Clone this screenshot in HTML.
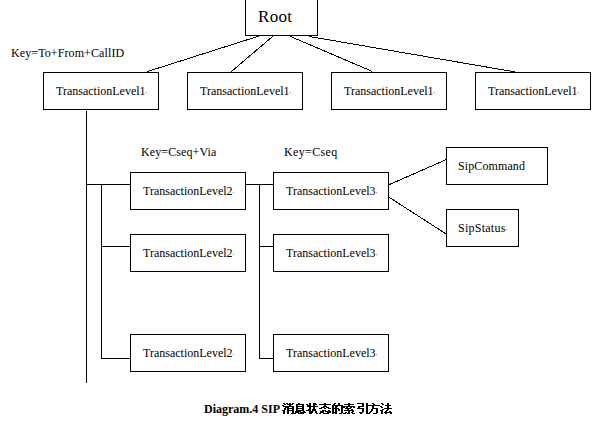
<!DOCTYPE html>
<html><head><meta charset="utf-8">
<style>
html,body{margin:0;padding:0;background:#fff;width:604px;height:424px;overflow:hidden;position:relative}
.b{position:absolute;box-sizing:border-box;border:1px solid #000;background:#fff}
.h{position:absolute;height:1px;background:#000}
.v{position:absolute;width:1px;background:#000}
.t{position:absolute;font-family:"Liberation Serif",serif;font-size:12px;line-height:1;white-space:nowrap;color:#000}
svg{position:absolute;left:0;top:0}
</style></head><body>
<svg width="604" height="424" shape-rendering="crispEdges">
<g stroke="#000" stroke-width="1" fill="none">
<line x1="260.6" y1="35.5" x2="147.5" y2="71.5"/>
<line x1="273.7" y1="35.5" x2="231.5" y2="71.5"/>
<line x1="290.5" y1="36.5" x2="372.5" y2="71.5"/>
<line x1="309.5" y1="36.5" x2="518.3" y2="72.5"/>
<line x1="389.5" y1="184.5" x2="446.5" y2="159.5"/>
<line x1="389.5" y1="197.5" x2="446.5" y2="234.2"/>
</g></svg>
<div class="b" style="left:245px;top:-5px;width:73px;height:41px"></div>
<div class="b" style="left:43px;top:72px;width:116px;height:38px"></div>
<div class="b" style="left:187px;top:72px;width:116px;height:38px"></div>
<div class="b" style="left:331px;top:72px;width:116px;height:38px"></div>
<div class="b" style="left:475px;top:72px;width:116px;height:38px"></div>
<div class="b" style="left:130px;top:172px;width:116px;height:38px"></div>
<div class="b" style="left:130px;top:234px;width:116px;height:38px"></div>
<div class="b" style="left:130px;top:334px;width:116px;height:38px"></div>
<div class="b" style="left:273px;top:172px;width:116px;height:38px"></div>
<div class="b" style="left:273px;top:234px;width:116px;height:38px"></div>
<div class="b" style="left:273px;top:334px;width:116px;height:38px"></div>
<div class="b" style="left:446px;top:147px;width:102px;height:38px"></div>
<div class="b" style="left:446px;top:209px;width:73px;height:38px"></div>
<div class="v" style="left:86px;top:111px;height:272px"></div>
<div class="h" style="left:86px;top:184px;width:45px"></div>
<div class="v" style="left:101px;top:184px;height:175px"></div>
<div class="h" style="left:101px;top:246px;width:30px"></div>
<div class="h" style="left:101px;top:358px;width:30px"></div>
<div class="h" style="left:245px;top:184px;width:29px"></div>
<div class="v" style="left:259px;top:184px;height:175px"></div>
<div class="h" style="left:259px;top:246px;width:15px"></div>
<div class="h" style="left:259px;top:358px;width:15px"></div>
<div class="t" id="root" style="left:258px;top:8px;font-size:17px;letter-spacing:0.3px">Root</div>
<div class="t" id="l1a" style="left:56px;top:85px">TransactionLevel1</div>
<div class="t" style="left:200px;top:85px">TransactionLevel1</div>
<div class="t" style="left:344px;top:85px">TransactionLevel1</div>
<div class="t" style="left:488px;top:85px">TransactionLevel1</div>
<div class="t" id="l2a" style="left:143px;top:185px">TransactionLevel2</div>
<div class="t" style="left:143px;top:247px">TransactionLevel2</div>
<div class="t" style="left:143px;top:347px">TransactionLevel2</div>
<div class="t" id="l3a" style="left:286px;top:185px">TransactionLevel3</div>
<div class="t" style="left:286px;top:247px">TransactionLevel3</div>
<div class="t" style="left:286px;top:347px">TransactionLevel3</div>
<div class="t" id="sc" style="left:458px;top:160px;letter-spacing:0.1px">SipCommand</div>
<div class="t" id="ss" style="left:458px;top:222px;letter-spacing:0.25px">SipStatus</div>
<div class="t" id="k1" style="left:11px;top:47px;letter-spacing:0.1px">Key=To+From+CallID</div>
<div class="t" id="k2" style="left:141px;top:146px;letter-spacing:0.1px">Key=Cseq+Via</div>
<div class="t" id="k3" style="left:284px;top:146px;letter-spacing:0.35px">Key=Cseq</div>
<div class="t" id="cap" style="left:204px;top:403px;font-weight:bold">Diagram.4 SIP </div>
<svg width="604" height="424" shape-rendering="crispEdges" style="position:absolute;left:0;top:0"><path fill="#000" d="M283 403h2v1h-2zM286 403h2v1h-2zM289 403h2v1h-2zM292 403h2v1h-2zM284 404h2v1h-2zM287 404h6v1h-6zM282 405h2v1h-2zM289 405h2v1h-2zM283 406h11v1h-11zM285 407h4v1h-4zM292 407h2v1h-2zM284 408h2v1h-2zM287 408h7v1h-7zM284 409h2v1h-2zM287 409h2v1h-2zM292 409h2v1h-2zM282 410h3v1h-3zM287 410h7v1h-7zM283 411h2v1h-2zM287 411h2v1h-2zM292 411h2v1h-2zM283 412h2v1h-2zM287 412h2v1h-2zM292 412h2v1h-2zM283 413h2v1h-2zM287 413h2v1h-2zM291 413h3v1h-3zM298 403h2v1h-2zM296 404h8v1h-8zM296 405h2v1h-2zM302 405h2v1h-2zM296 406h8v1h-8zM296 407h2v1h-2zM302 407h2v1h-2zM296 408h8v1h-8zM296 409h2v1h-2zM302 409h2v1h-2zM296 410h8v1h-8zM295 411h6v1h-6zM303 411h2v1h-2zM295 412h4v1h-4zM300 412h6v1h-6zM294 413h2v1h-2zM298 413h6v1h-6zM309 403h2v1h-2zM313 403h3v1h-3zM306 404h2v1h-2zM309 404h2v1h-2zM313 404h4v1h-4zM307 405h4v1h-4zM313 405h2v1h-2zM307 406h11v1h-11zM309 407h2v1h-2zM313 407h2v1h-2zM309 408h2v1h-2zM313 408h2v1h-2zM308 409h3v1h-3zM312 409h4v1h-4zM306 410h5v1h-5zM312 410h4v1h-4zM309 411h4v1h-4zM315 411h2v1h-2zM309 412h4v1h-4zM315 412h2v1h-2zM309 413h3v1h-3zM316 413h2v1h-2zM324 403h2v1h-2zM319 404h12v1h-12zM324 405h2v1h-2zM323 406h4v1h-4zM321 407h4v1h-4zM326 407h3v1h-3zM319 408h3v1h-3zM324 408h2v1h-2zM328 408h3v1h-3zM322 410h4v1h-4zM328 410h2v1h-2zM320 411h4v1h-4zM325 411h6v1h-6zM320 412h4v1h-4zM327 412h4v1h-4zM319 413h2v1h-2zM323 413h6v1h-6zM334 403h2v1h-2zM338 403h2v1h-2zM333 404h2v1h-2zM338 404h2v1h-2zM332 405h11v1h-11zM332 406h2v1h-2zM335 406h3v1h-3zM341 406h2v1h-2zM332 407h2v1h-2zM335 407h2v1h-2zM341 407h2v1h-2zM332 408h7v1h-7zM341 408h2v1h-2zM332 409h2v1h-2zM335 409h2v1h-2zM338 409h2v1h-2zM341 409h2v1h-2zM332 410h2v1h-2zM335 410h2v1h-2zM338 410h2v1h-2zM341 410h2v1h-2zM332 411h2v1h-2zM335 411h2v1h-2zM341 411h2v1h-2zM332 412h5v1h-5zM341 412h2v1h-2zM332 413h2v1h-2zM335 413h2v1h-2zM339 413h3v1h-3zM348 403h2v1h-2zM344 404h10v1h-10zM348 405h2v1h-2zM343 406h12v1h-12zM343 407h2v1h-2zM346 407h2v1h-2zM350 407h2v1h-2zM353 407h2v1h-2zM345 408h6v1h-6zM347 409h2v1h-2zM351 409h2v1h-2zM344 410h10v1h-10zM348 411h2v1h-2zM352 411h2v1h-2zM345 412h2v1h-2zM348 412h2v1h-2zM351 412h2v1h-2zM343 413h3v1h-3zM347 413h3v1h-3zM352 413h3v1h-3zM357 403h7v1h-7zM366 403h2v1h-2zM362 404h2v1h-2zM366 404h2v1h-2zM362 405h2v1h-2zM366 405h2v1h-2zM358 406h6v1h-6zM366 406h2v1h-2zM358 407h2v1h-2zM366 407h2v1h-2zM357 408h7v1h-7zM366 408h2v1h-2zM362 409h2v1h-2zM366 409h2v1h-2zM362 410h2v1h-2zM366 410h2v1h-2zM362 411h2v1h-2zM366 411h2v1h-2zM359 412h4v1h-4zM366 412h2v1h-2zM360 413h2v1h-2zM366 413h2v1h-2zM372 403h2v1h-2zM373 404h2v1h-2zM368 405h12v1h-12zM372 406h2v1h-2zM372 407h2v1h-2zM372 408h6v1h-6zM371 409h2v1h-2zM376 409h2v1h-2zM371 410h2v1h-2zM376 410h2v1h-2zM370 411h2v1h-2zM376 411h2v1h-2zM369 412h2v1h-2zM376 412h2v1h-2zM368 413h2v1h-2zM373 413h4v1h-4zM381 403h2v1h-2zM387 403h2v1h-2zM382 404h2v1h-2zM387 404h2v1h-2zM385 405h6v1h-6zM380 406h2v1h-2zM387 406h2v1h-2zM381 407h2v1h-2zM387 407h2v1h-2zM384 408h8v1h-8zM382 409h2v1h-2zM387 409h2v1h-2zM380 410h3v1h-3zM386 410h2v1h-2zM381 411h2v1h-2zM385 411h2v1h-2zM389 411h2v1h-2zM381 412h2v1h-2zM384 412h8v1h-8zM381 413h2v1h-2zM385 413h2v1h-2zM390 413h2v1h-2z"/>
<g fill="#888"><rect x="146" y="92" width="1" height="1"/><rect x="290" y="92" width="1" height="1"/><rect x="434" y="92" width="1" height="1"/><rect x="578" y="92" width="1" height="1"/><rect x="233" y="192" width="1" height="1"/><rect x="233" y="254" width="1" height="1"/><rect x="233" y="354" width="1" height="1"/><rect x="376" y="192" width="1" height="1"/><rect x="376" y="254" width="1" height="1"/><rect x="376" y="354" width="1" height="1"/><rect x="506" y="229" width="1" height="1"/></g></svg>
<div class="t" style="left:282px;top:402px;color:transparent;font-weight:bold">消息状态的索引方法</div>
</body></html>
